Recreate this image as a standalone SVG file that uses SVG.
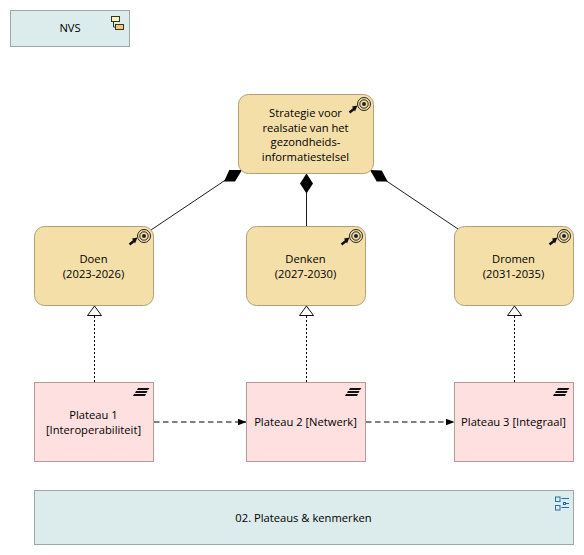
<svg xmlns="http://www.w3.org/2000/svg" xmlns:xlink="http://www.w3.org/1999/xlink" width="584" height="555" viewBox="0 0 584 555">
<style>
text{font-family:"Open Sans","Noto Sans","Liberation Sans",sans-serif;font-size:11.2px;fill:#000;text-anchor:middle}
.goal{fill:#f5dfa9;stroke:#b3a175;stroke-width:1}
.plat{fill:#ffe0e0;stroke:#b59c9c;stroke-width:1}
.note{fill:#dcebeb;stroke:#9ba8a8;stroke-width:1}
.line{fill:none;stroke:#1c1c1c;stroke-width:1}
.dash{fill:none;stroke:#000;stroke-width:1;stroke-dasharray:5.500 3.500}
.dot{fill:none;stroke:#000;stroke-width:1;stroke-dasharray:2 2}
.tri{fill:#fff;stroke:#111;stroke-width:1}
</style>
<defs>
<g id="goalIcon">
<circle cx="0" cy="0" r="6.500" fill="none" stroke="#222" stroke-width="1"/>
<circle cx="0" cy="0" r="4.200" fill="none" stroke="#222" stroke-width="1"/>
<circle cx="0" cy="0" r="2" fill="#222"/>
<path d="M-14.500 8.500L-9.500 4.500" stroke="#111" stroke-width="2.500" fill="none"/>
<path d="M-6.500 1.500L-12 2.500L-9 7.500Z" fill="#111"/>
</g>
<g id="platIcon" fill="#111">
<path d="M118 -5H129.500L128 -3H117Z"/>
<path d="M116 -2H127.500L126.500 0H115Z"/>
<path d="M114 1H126L125 3H113Z"/>
</g>
<marker id="arrow" markerUnits="userSpaceOnUse" markerWidth="9" markerHeight="7" refX="8.500" refY="3.500" orient="auto"><path d="M0 0.300L8.500 3.500L0 6.700Z" fill="#000"/></marker>
</defs>
<g id="connectors">
<path class="line" d="M151 230L227 179"/>
<path d="M229.300 170L242 170L235 181.500L224 181.500Z" fill="#000"/>
<path class="line" d="M306.500 226V193"/>
<path d="M306.500 173.500L313 183.500L306.500 193.500L300 183.500Z" fill="#000"/>
<path class="line" d="M458 229L385 180"/>
<path d="M370 170L381.700 170.500L387.700 181.500L376.700 181.500Z" fill="#000"/>
<path class="dot" d="M94.500 382V316"/>
<path class="tri" d="M94.500 306L101.500 315.500H87.500Z"/>
<path class="dot" d="M306.500 382V316"/>
<path class="tri" d="M306.500 306L313.500 315.500H299.500Z"/>
<path class="dot" d="M514.500 382V316"/>
<path class="tri" d="M514.500 306L521.500 315.500H507.500Z"/>
<path class="dash" d="M154 422H246.500" marker-end="url(#arrow)"/>
<path class="dash" d="M366 422H454.500" marker-end="url(#arrow)"/>
</g>
<g id="nvs">
<rect class="note" x="10.500" y="10.500" width="119" height="36"/>
<rect x="111.500" y="16.500" width="8" height="5" fill="#fdf3b5" stroke="#333"/>
<rect x="115.500" y="24.500" width="8" height="5" fill="#f5c96a" stroke="#333"/>
<path d="M113.500 21.500V27H115.500" fill="none" stroke="#333"/>
<text x="70" y="32">NVS</text>
</g>
<g id="strategie">
<rect class="goal" x="238.500" y="94.500" width="135" height="79" rx="10"/>
<use xlink:href="#goalIcon" x="364" y="104"/>
<text x="305.500" y="117">Strategie voor</text>
<text x="305.500" y="131.500">realsatie van het</text>
<text x="305.500" y="146">gezondheids-</text>
<text x="305.500" y="160.500">informatiestelsel</text>
</g>
<g id="doen">
<rect class="goal" x="34.500" y="226.500" width="119" height="79" rx="10"/>
<use xlink:href="#goalIcon" x="144" y="236"/>
<text x="93.500" y="263">Doen</text>
<text x="93.500" y="278">(2023-2026)</text>
</g>
<g id="denken">
<rect class="goal" x="246.500" y="226.500" width="119" height="79" rx="10"/>
<use xlink:href="#goalIcon" x="356" y="236"/>
<text x="305.500" y="263">Denken</text>
<text x="305.500" y="278">(2027-2030)</text>
</g>
<g id="dromen">
<rect class="goal" x="454.500" y="226.500" width="119" height="79" rx="10"/>
<use xlink:href="#goalIcon" x="564" y="236"/>
<text x="513.500" y="263">Dromen</text>
<text x="513.500" y="278">(2031-2035)</text>
</g>
<g id="plateau1">
<rect class="plat" x="34.500" y="382.500" width="119" height="79"/>
<use xlink:href="#platIcon" x="20" y="393"/>
<text x="93.500" y="419">Plateau 1</text>
<text x="93.500" y="434">[Interoperabiliteit]</text>
</g>
<g id="plateau2">
<rect class="plat" x="246.500" y="382.500" width="119" height="79"/>
<use xlink:href="#platIcon" x="232" y="393"/>
<text x="305.500" y="426">Plateau 2 [Netwerk]</text>
</g>
<g id="plateau3">
<rect class="plat" x="454.500" y="382.500" width="119" height="79"/>
<use xlink:href="#platIcon" x="440" y="393"/>
<text x="513.500" y="426">Plateau 3 [Integraal]</text>
</g>
<g id="kenmerken">
<rect class="note" x="34.500" y="490.500" width="539" height="54"/>
<g fill="none" stroke="#1f6fb5">
<rect x="555.500" y="497" width="4.500" height="4.500"/>
<rect x="555.500" y="505.500" width="4.500" height="4.500"/>
<path d="M561.500 498.500H569M561.500 507.500H569"/>
<rect x="563.500" y="502.500" width="2" height="2"/>
<path d="M565.500 503.500H569"/>
</g>
<text x="303.500" y="522">02. Plateaus &amp; kenmerken</text>
</g>
</svg>
